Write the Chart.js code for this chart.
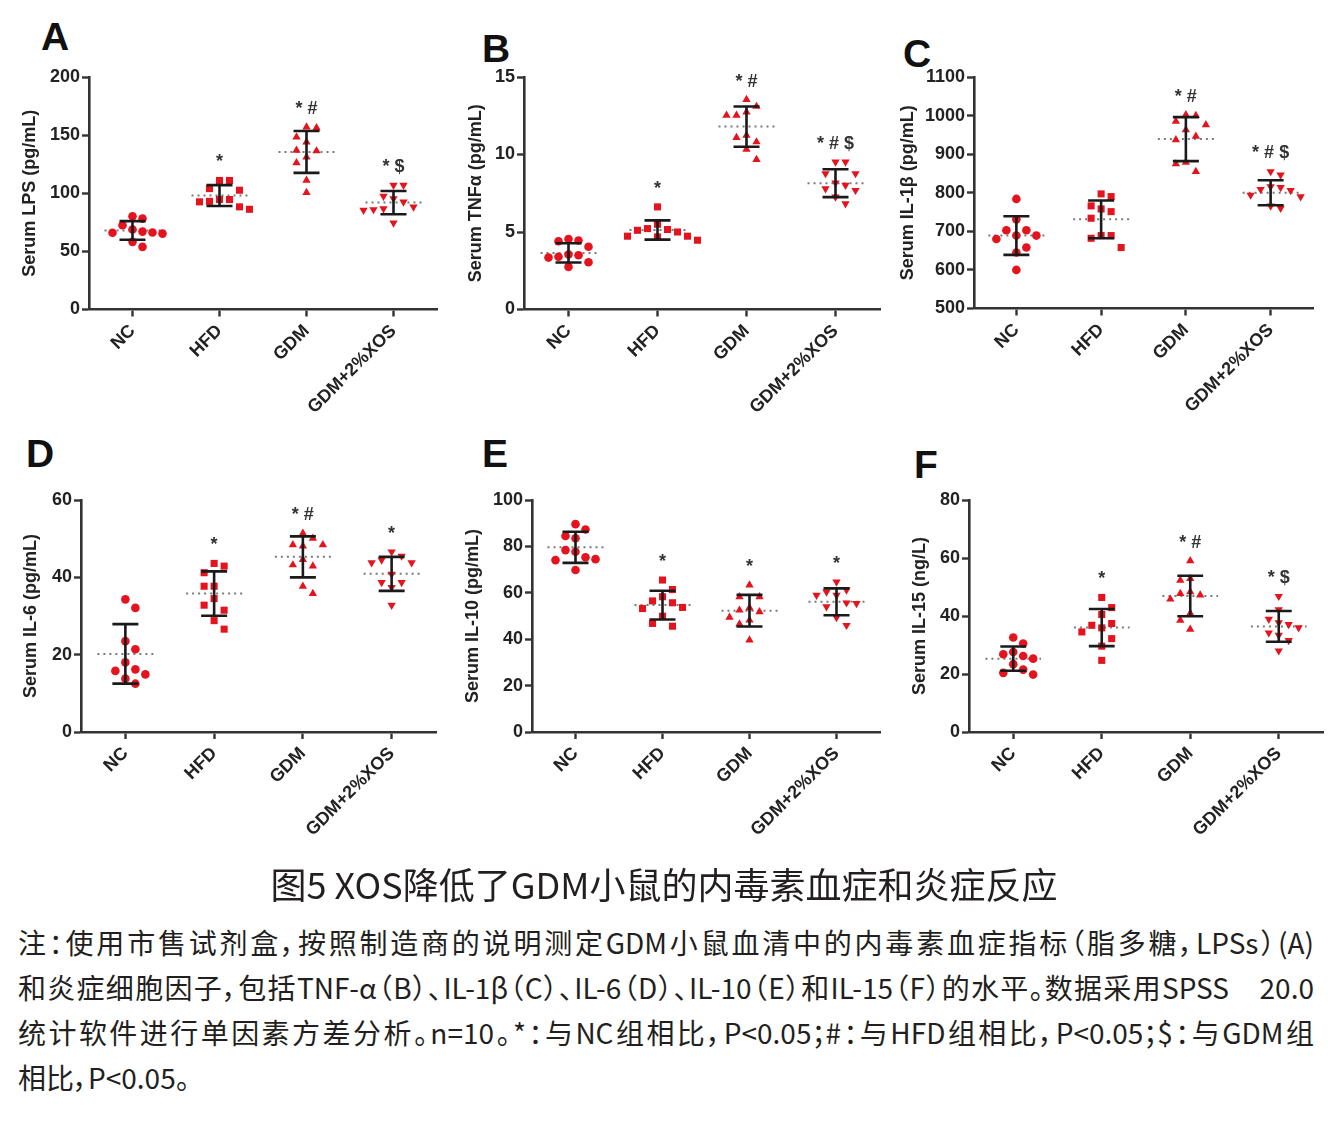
<!DOCTYPE html>
<html>
<head>
<meta charset="utf-8">
<title>图5</title>
<script src="https://cdn.jsdelivr.net/npm/chart.js@4.4.1/dist/chart.umd.min.js"></script>
<style>
  body { margin: 0; background: #fff; width: 1328px; height: 1127px; position: relative; overflow: hidden; }
  canvas { position: absolute; }
  .letter { position: absolute; font: bold 39px/39px "Liberation Sans", Arial, sans-serif; color: #111; }
  #caption { position: absolute; left: 0; width: 1328px; top: 860px; line-height: 46px; text-align: center;
    font-family: "Noto Sans CJK SC", sans-serif; font-size: 36px; color: #231f20; font-feature-settings: "palt"; }
  #note { position: absolute; left: 18px; width: 1296px; top: 920px;
    font-family: "Noto Sans CJK SC", sans-serif; font-size: 28px; line-height: 45px; color: #231f20; font-feature-settings: "palt"; }
  #note .j { text-align: justify; text-align-last: justify; }
</style>
</head>
<body>

<div class="letter" style="left:41px;top:17px">A</div>
<div class="letter" style="left:482px;top:29px">B</div>
<div class="letter" style="left:903px;top:34px">C</div>
<div class="letter" style="left:26px;top:434px">D</div>
<div class="letter" style="left:482px;top:434px">E</div>
<div class="letter" style="left:914px;top:445px">F</div>

<canvas id="pA" width="448" height="430" style="left:0;top:0"></canvas>
<canvas id="pB" width="448" height="430" style="left:440px;top:0"></canvas>
<canvas id="pC" width="448" height="430" style="left:880px;top:0"></canvas>
<canvas id="pD" width="448" height="430" style="left:0;top:430px"></canvas>
<canvas id="pE" width="448" height="430" style="left:440px;top:430px"></canvas>
<canvas id="pF" width="448" height="430" style="left:880px;top:430px"></canvas>

<div id="caption">图5 XOS降低了GDM小鼠的内毒素血症和炎症反应</div>
<div id="note">
  <div class="j">注：使用市售试剂盒，按照制造商的说明测定GDM小鼠血清中的内毒素血症指标（脂多糖，LPSs）(A)</div>
  <div class="j">和炎症细胞因子，包括TNF-α（B）、IL-1β（C）、IL-6（D）、IL-10（E）和IL-15（F）的水平。数据采用SPSS　20.0</div>
  <div class="j">统计软件进行单因素方差分析。n=10。*：与NC组相比，P&lt;0.05；#：与HFD组相比，P&lt;0.05；$：与GDM组</div>
  <div>相比，P&lt;0.05。</div>
</div>

<script>
const groups = ['NC', 'HFD', 'GDM', 'GDM+2%XOS'];

// A: serum LPS (pg/mL)
const lpsPoints = [
  [80.2, 78.2, 72.5, 68.8, 66.2, 65.3, 66, 67, 58.2, 53.9],
  [111, 111, 102.6, 104, 94.6, 93, 92.6, 94.6, 88.3, 86.2],
  [156.2, 157, 148.4, 144.1, 136.4, 137, 131.2, 126.1, 111.2, 100.6],
  [106.9, 106.9, 97.4, 95.4, 92.6, 88.3, 86.8, 85.4, 74.5, 86]
];
const lpsMean = [68, 98, 135.5, 92];
const lpsSd = [8, 9, 18, 10];
const lpsSig = ['', '*', '* #', '* $'];
const lpsTicks = [0, 50, 100, 150, 200];

// B: serum TNF-α (pg/mL)
const tnfPoints = [
  [4.55, 4.45, 4.4, 4.05, 3.55, 3.35, 3.5, 3.05, 2.75, 3.4],
  [6.62, 5.5, 5.22, 5.16, 5.0, 5.11, 4.73, 4.68, 4.73, 4.47],
  [13.54, 13.1, 12.74, 12.53, 12.53, 11.24, 11.09, 10.81, 10.34, 9.67],
  [9.52, 9.52, 8.77, 8.77, 8.02, 8.17, 7.8, 7.69, 7.26, 6.83]
];
const tnfMean = [3.65, 5.13, 11.8, 8.15];
const tnfSd = [0.62, 0.62, 1.3, 0.9];
const tnfSig = ['', '*', '* #', '* # $'];
const tnfTicks = [0, 5, 10, 15];

// C: serum IL-1β (pg/mL)
const il1Points = [
  [784, 731, 703, 703, 689, 680, 689, 658, 645, 600],
  [790, 797, 766, 758, 751, 734, 689, 689, 658, 682],
  [1002, 1000, 985, 976, 963, 946, 879, 875, 855, 937],
  [855, 846, 806, 809, 816, 814, 794, 766, 760, 790]
];
const il1Mean = [689, 731, 939, 800];
const il1Sd = [50, 49, 57, 32.5];
const il1Sig = ['', '', '* #', '* # $'];
const il1Ticks = [500, 600, 700, 800, 900, 1000, 1100];

// D: serum IL-6 (pg/mL)
const il6Points = [
  [34.3, 32.1, 23.5, 21.4, 18, 16.2, 14.9, 15.8, 13.8, 12.5],
  [43.6, 42.9, 41.2, 37.7, 37.7, 34.5, 32.8, 31.5, 28.8, 26.6],
  [51.4, 50.1, 48.1, 48.4, 48.4, 44.6, 43.2, 42.9, 37.7, 35.8],
  [46.6, 45.5, 44.5, 43.8, 43.8, 40.8, 38.7, 38.7, 37.4, 32.8]
];
const il6Mean = [20.2, 35.8, 45.3, 40.9];
const il6Sd = [7.7, 5.75, 5.3, 4.4];
const il6Sig = ['', '*', '* #', '*'];
const il6Ticks = [0, 20, 40, 60];

// E: serum IL-10 (pg/mL)
const il10Points = [
  [89.6, 87.3, 84.5, 83.5, 77.7, 78.4, 75.3, 74.5, 74.1, 69.8],
  [65.5, 61.4, 58.3, 56.5, 55.7, 53.7, 53.2, 49.9, 46.8, 45.6],
  [63.3, 58.3, 58.3, 53.5, 52.5, 51.8, 49.4, 48.2, 46.5, 39.6],
  [64.7, 61.2, 60.4, 59, 59, 55.7, 55.4, 54, 49.4, 46]
];
const il10Mean = [79.6, 54.7, 52.3, 56.1];
const il10Sd = [6.7, 6.2, 6.8, 5.8];
const il10Sig = ['', '*', '*', '*'];
const il10Ticks = [0, 20, 40, 60, 80, 100];

// F: serum IL-15 (ng/L)
const il15Points = [
  [32.6, 30.5, 27.6, 26.8, 25.3, 26.2, 23.4, 21.5, 20.4, 19.8],
  [46.4, 42.9, 40.5, 36.8, 37.4, 35.9, 34.5, 32.2, 29.6, 24.7],
  [59, 52.9, 52.3, 47.7, 48.3, 47.2, 45.8, 40.9, 38.5, 35.4],
  [46.8, 42.2, 38.9, 37.7, 37.1, 36, 34.2, 33.4, 31.6, 28]
];
const il15Mean = [25.3, 36, 46.9, 36.4];
const il15Sd = [4.2, 6.4, 7, 5.3];
const il15Sig = ['', '*', '* #', '* $'];
const il15Ticks = [0, 20, 40, 60, 80];

// canvas id, y title, data, and where the plot box sits inside its 448x430 canvas
const panels = [
  { id: 'pA', title: 'Serum LPS (pg/mL)', pts: lpsPoints, mean: lpsMean, sd: lpsSd, sig: lpsSig, ticks: lpsTicks,
    left: 89, top: 77, right: 437, bottom: 309.5, titleX: 30 },
  { id: 'pB', title: 'Serum TNFα (pg/mL)', pts: tnfPoints, mean: tnfMean, sd: tnfSd, sig: tnfSig, ticks: tnfTicks,
    left: 84, top: 77, right: 440, bottom: 309.5, titleX: 36 },
  { id: 'pC', title: 'Serum IL-1β (pg/mL)', pts: il1Points, mean: il1Mean, sd: il1Sd, sig: il1Sig, ticks: il1Ticks,
    left: 94, top: 77, right: 433, bottom: 308.5, titleX: 28 },
  { id: 'pD', title: 'Serum IL-6 (pg/mL)', pts: il6Points, mean: il6Mean, sd: il6Sd, sig: il6Sig, ticks: il6Ticks,
    left: 81, top: 70, right: 436, bottom: 302, titleX: 31 },
  { id: 'pE', title: 'Serum IL-10 (pg/mL)', pts: il10Points, mean: il10Mean, sd: il10Sd, sig: il10Sig, ticks: il10Ticks,
    left: 92, top: 70, right: 440, bottom: 302, titleX: 33 },
  { id: 'pF', title: 'Serum IL-15 (ng/L)', pts: il15Points, mean: il15Mean, sd: il15Sd, sig: il15Sig, ticks: il15Ticks,
    left: 89, top: 70, right: 445, bottom: 302, titleX: 40 }
];

const shapes = [
  { pointStyle: 'circle', radius: 4.3, rotation: 0 },
  { pointStyle: 'rect', radius: 5, rotation: 0 },
  { pointStyle: 'triangle', radius: 4.8, rotation: 0 },
  { pointStyle: 'triangle', radius: 4.8, rotation: 180 }
];
const RED = '#e5131d';
const INK = '#222';
const FONT = '"Liberation Sans", Arial, sans-serif';

// prism-like scatter: push each point sideways until it clears its neighbours (px units)
function spread(values, ppu) {
  const gapX = 10, gapY = 12;
  const order = values.map((v, i) => i).sort((a, b) => values[b] - values[a]);
  const done = [];
  const off = [];
  order.forEach((i, n) => {
    const y = values[i] * ppu;
    const near = done.filter(p => Math.abs(p.y - y) < gapY);
    const cands = [0];
    near.forEach(p => cands.push(p.x - gapX, p.x + gapX));
    const side = n % 2 ? 1 : -1;
    cands.sort((a, b) => (Math.abs(a) - Math.abs(b)) || (b * side - a * side));
    const x = cands.find(c => near.every(p => Math.abs(p.x - c) >= gapX - 0.01));
    done.push({ x, y });
    off[i] = x;
  });
  return off;
}

function errorBars(mean, sd, cap) {
  const d = [];
  mean.forEach((m, i) => {
    const hi = m + sd[i], lo = m - sd[i];
    d.push({ x: i - cap, y: hi }, { x: i + cap, y: hi }, { x: i, y: null },
           { x: i, y: hi }, { x: i, y: lo }, { x: i, y: null },
           { x: i - cap, y: lo }, { x: i + cap, y: lo }, { x: i, y: null });
  });
  return d;
}

function meanLines(mean, half) {
  const d = [];
  mean.forEach((m, i) => d.push({ x: i - half, y: m }, { x: i + half, y: m }, { x: i, y: null }));
  return d;
}

function sigPlugin(p) {
  return {
    id: 'sig',
    afterDatasetsDraw(chart) {
      const { ctx, scales: { x, y } } = chart;
      ctx.save();
      ctx.font = 'bold 18px ' + FONT;
      ctx.fillStyle = '#333';
      ctx.textAlign = 'center';
      ctx.textBaseline = 'middle';
      p.sig.forEach((s, i) => {
        if (!s) return;
        const top = Math.max(...p.pts[i], p.mean[i] + p.sd[i]);
        ctx.fillText(s, x.getPixelForValue(i), y.getPixelForValue(top) - 18);
      });
      ctx.restore();
    }
  };
}

panels.forEach(p => {
  const yMin = p.ticks[0], yMax = p.ticks[p.ticks.length - 1];
  const ppuX = (p.right - p.left) / 4;
  const ppuY = (p.bottom - p.top) / (yMax - yMin);

  const datasets = [{
    type: 'line', data: errorBars(p.mean, p.sd, 13 / ppuX),
    borderColor: '#1a1a1a', borderWidth: 2.6, pointRadius: 0, spanGaps: false, clip: false
  }];
  p.pts.forEach((vals, g) => {
    const off = spread(vals, ppuY);
    datasets.push({
      type: 'scatter',
      data: vals.map((v, k) => ({ x: g + off[k] / ppuX, y: v })),
      pointStyle: shapes[g].pointStyle, pointRadius: shapes[g].radius, pointRotation: shapes[g].rotation,
      backgroundColor: RED, borderWidth: 0, clip: false
    });
  });
  datasets.push({
    type: 'line', data: meanLines(p.mean, 28 / ppuX),
    borderColor: '#7a7a7a', borderWidth: 2, borderDash: [2, 4], pointRadius: 0, spanGaps: false, clip: false
  });

  new Chart(document.getElementById(p.id), {
    type: 'scatter',
    data: { datasets },
    options: {
      responsive: false,
      animation: false,
      events: [],
      layout: { padding: { left: 0, top: p.top, right: 448 - p.right, bottom: 0 } },
      plugins: { legend: { display: false }, tooltip: { enabled: false } },
      scales: {
        x: {
          type: 'linear', min: -0.5, max: 3.5,
          afterBuildTicks: ax => { ax.ticks = groups.map((g, i) => ({ value: i })); },
          afterFit: ax => { ax.height = 430 - p.bottom; },
          ticks: {
            callback: v => groups[v], autoSkip: false, minRotation: 45, maxRotation: 45,
            font: { family: FONT, size: 18, weight: 'bold' }, color: INK, padding: 4
          },
          grid: { drawOnChartArea: false, drawTicks: true, tickLength: 7, tickWidth: 2.4, tickColor: '#333' },
          border: { display: true, width: 2.6, color: '#333' }
        },
        y: {
          type: 'linear', min: yMin, max: yMax,
          afterBuildTicks: ax => { ax.ticks = p.ticks.map(v => ({ value: v })); },
          afterFit: ax => { ax.width = p.left; },
          ticks: { callback: v => String(v), font: { family: FONT, size: 18, weight: 'bold' }, color: INK, padding: 2 },
          grid: { drawOnChartArea: false, drawTicks: true, tickLength: 7, tickWidth: 2.4, tickColor: '#333' },
          border: { display: true, width: 2.6, color: '#333' },
          title: {
            display: true, text: p.title, color: INK,
            font: { family: FONT, size: 18, weight: 'bold' },
            padding: { top: p.titleX - 10.8, bottom: 0 }
          }
        }
      }
    },
    plugins: [sigPlugin(p)]
  });
});
</script>
</body>
</html>
